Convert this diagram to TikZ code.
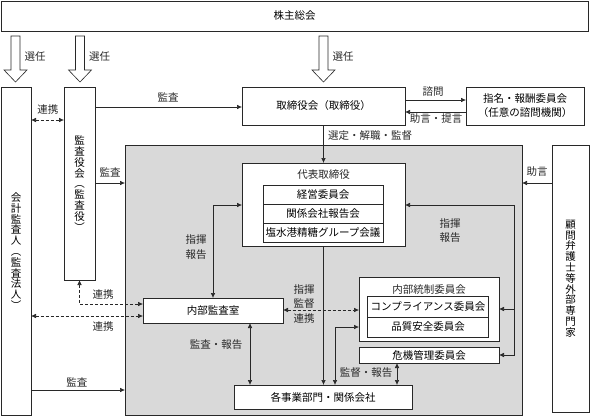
\documentclass[tikz,border=0pt]{standalone}
\usepackage{fontspec}
\newfontfamily\jp{Noto Sans CJK JP}
\usetikzlibrary{arrows.meta,calc}
\definecolor{grayfill}{RGB}{217,217,217}
\definecolor{ink}{RGB}{40,40,40}
\begin{document}
\begin{tikzpicture}[x=1pt,y=-1pt,
  box/.style={draw=ink, line width=0.6pt, fill=white, inner sep=0pt, outer sep=0pt,
    font=\jp\fontsize{10.5}{13}\selectfont, align=center},
  lbl/.style={font=\jp\fontsize{10.5}{13}\selectfont, inner sep=0pt, align=center, text=ink},
  vt/.style={font=\jp\fontsize{10.5}{10.8}\selectfont},
  conn/.style={line width=0.6pt, draw=ink},
  arr/.style={conn, -{Latex[length=5pt,width=4.5pt]}},
  barr/.style={conn, {Latex[length=5pt,width=4.5pt]}-{Latex[length=5pt,width=4.5pt]}},
  dsh/.style={dash pattern=on 3pt off 2pt},
  blockarrow/.style={draw=ink, line width=0.6pt, fill=white, line join=miter}
]
\useasboundingbox (0,0) rectangle (590,416);

% gray region
\node[box, fill=grayfill, minimum width=397, minimum height=270] (gray) at (323.5,280) {};

% shareholders meeting
\node[box, minimum width=587, minimum height=30] (kabu) at (294.5,16) {株主総会};

% block arrows
\foreach \cx/\lx in {15.5/35, 80/99.5, 323.5/343}{
  \draw[blockarrow] (\cx-4.5,36) -- (\cx+4.5,36) -- (\cx+4.5,70) -- (\cx+11.5,70)
    -- (\cx,82) -- (\cx-11.5,70) -- (\cx-4.5,70) -- cycle;
  \node[lbl] at (\lx,57) {選任};
}

% left tall boxes
\node[box, vt, minimum width=30, minimum height=328] (kaikei) at (16,251)
  {会\\計\\監\\査\\人\\︵\\監\\査\\法\\人\\︶};
\node[box, vt, minimum width=31, minimum height=193] (kansayaku) at (79.5,183.5)
  {監\\査\\役\\会\\︵\\監\\査\\役\\︶};
\node[box, vt, minimum width=37, minimum height=267] (komon) at (570.5,278.5)
  {顧\\問\\弁\\護\\士\\等\\外\\部\\専\\門\\家};

% top boxes
\node[box, minimum width=163, minimum height=38] (tori) at (323.5,106) {取締役会（取締役）};
\node[box, minimum width=118, minimum height=38, font=\jp\fontsize{10.5}{14}\selectfont] (shimei) at (525,106)
  {指名・報酬委員会\\（任意の諮問機関）};

% representative director
\node[box, minimum width=163, minimum height=83] (daihyo) at (323.5,204.5) {};
\node[lbl] (daihyot) at (323.5,175) {代表取締役};
\node[box, minimum width=120, minimum height=19] (keiei) at (323,194.5) {経営委員会};
\node[box, minimum width=120, minimum height=19] (kankei) at (323,213.5) {関係会社報告会};
\node[box, minimum width=120, minimum height=19] (group) at (323,232.5) {塩水港精糖グループ会議};

% internal audit
\node[box, minimum width=140, minimum height=25] (naibu) at (213,310.5) {内部監査室};

% internal control
\node[box, minimum width=140, minimum height=64] (tosei) at (429,309) {};
\node[lbl] (toseit) at (429,290) {内部統制委員会};
\node[box, minimum width=121, minimum height=21] (comp) at (428,306.5) {コンプライアンス委員会};
\node[box, minimum width=121, minimum height=20] (hin) at (428,327) {品質安全委員会};

\node[box, minimum width=140, minimum height=16] (kiki) at (429,355) {危機管理委員会};

\node[box, minimum width=178, minimum height=24] (kaku) at (323,397) {各事業部門・関係会社};

% helper coordinates
\coordinate (y100) at (0,100);
\coordinate (y107) at (0,107);
\coordinate (y112) at (0,112);
\coordinate (y120) at (0,120);
\coordinate (y183) at (0,183);
\coordinate (y205) at (0,205);
\coordinate (y304) at (0,304);
\coordinate (y310) at (0,310);
\coordinate (y316) at (0,316);
\coordinate (y390) at (0,390);
\coordinate (rr) at (514,205);
\coordinate (c335) at (335,327);
\coordinate (x250) at (250,0);
\coordinate (x397) at (397,0);

% connectors
\draw[barr,dsh] (kaikei.east |- y120) -- (kansayaku.west |- y120);
\node[lbl] at (48,110) {連携};

\draw[arr] (kansayaku.east |- y107) -- (tori.west |- y107);
\node[lbl] at (168,97) {監査};

\draw[arr] (tori.east |- y100) -- (shimei.west |- y100);
\node[lbl] at (433,92) {諮問};
\draw[arr] (shimei.west |- y112) -- (tori.east |- y112);
\node[lbl] at (436,119) {助言・提言};

\draw[arr] (tori.south) -- (daihyo.north);
\node[lbl] at (370,136) {選定・解職・監督};

\draw[arr] (kansayaku.east |- y183) -- (gray.west |- y183);
\node[lbl] at (110,172) {監査};
\draw[arr] (komon.west |- y183) -- (gray.east |- y183);
\node[lbl] at (537,172) {助言};

\draw[barr] (naibu.north) |- (daihyo.west |- y205);
\node[lbl, font=\jp\fontsize{10.5}{15}\selectfont] at (196,247) {指揮\\報告};

\draw[arr] (rr) -- (daihyo.east |- rr);
\draw[arr] (rr) |- (tosei.east);
\draw[arr] (rr) |- (kiki.east);
\node[lbl, font=\jp\fontsize{10.5}{14}\selectfont] at (450,231) {指揮\\報告};

\draw[barr,dsh] (naibu.east |- y310) -- (tosei.west |- y310);
\node[lbl, font=\jp\fontsize{10.5}{14.5}\selectfont] at (304,304) {指揮\\監督\\連携};

\draw[arr] (daihyo.south) -- (kaku.north -| daihyo.south);
\draw[barr] (kaku.north -| c335) |- (tosei.west |- c335);

\draw[barr] (naibu.south -| x250) -- (kaku.north -| x250);
\node[lbl] at (216,345) {監査・報告};

\draw[barr] (kiki.south -| x397) -- (kaku.north -| x397);
\node[lbl] at (366,373) {監督・報告};

\draw[barr,dsh] (kansayaku.south) |- (naibu.west |- y304);
\node[lbl] at (103,295) {連携};

\draw[barr,dsh] (kaikei.east |- y316) -- (naibu.west |- y316);
\node[lbl] at (103,327) {連携};

\draw[arr] (kaikei.east |- y390) -- (gray.west |- y390);
\node[lbl] at (77,382) {監査};
\end{tikzpicture}
\end{document}
